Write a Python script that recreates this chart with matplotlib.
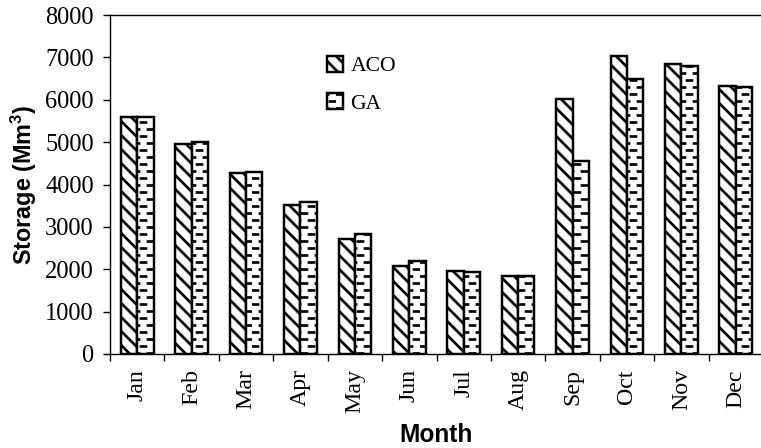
import numpy as np
import matplotlib
matplotlib.use("Agg")
import matplotlib.pyplot as plt
from matplotlib import hatch as mhatch
from matplotlib.path import Path

# ---------------- data ----------------
months = ["Jan", "Feb", "Mar", "Apr", "May", "Jun",
          "Jul", "Aug", "Sep", "Oct", "Nov", "Dec"]
aco = [5600, 4950, 4260, 3510, 2710, 2075, 1955, 1840, 6010, 7030, 6840, 6320]
ga = [5600, 5010, 4300, 3585, 2830, 2195, 1925, 1840, 4545, 6485, 6800, 6290]
yticks = [0, 1000, 2000, 3000, 4000, 5000, 6000, 7000, 8000]


# ------------- custom dashed hatch (replaces '.') -------------
class DashHatch(mhatch.HatchPatternBase):
    def __init__(self, hatch, density):
        n = hatch.count('.')
        self.segs = []
        if n:
            nrows, ncols = 12, 6
            half = 0.03
            for r in range(nrows):
                y = (r + 0.5) / nrows
                xoff = 0.25 if r % 2 == 0 else 0.75
                for c in range(ncols):
                    x = (c + xoff) / ncols
                    self.segs.append((x - half, y, x + half, y))
        self.num_vertices = len(self.segs) * 2

    def set_vertices_and_codes(self, vertices, codes):
        for i, (x0, y0, x1, y1) in enumerate(self.segs):
            vertices[2 * i] = (x0, y0)
            vertices[2 * i + 1] = (x1, y1)
            codes[2 * i] = Path.MOVETO
            codes[2 * i + 1] = Path.LINETO


mhatch._hatch_types = [h for h in mhatch._hatch_types
                       if h is not mhatch.SmallFilledCircles] + [DashHatch]

DPI = 84
plt.rcParams['hatch.linewidth'] = 2.3
plt.rcParams['mathtext.fontset'] = 'custom'
plt.rcParams['mathtext.rm'] = 'Liberation Sans:bold'
plt.rcParams['mathtext.bf'] = 'Liberation Sans:bold'

fig = plt.figure(figsize=(761 / DPI, 448 / DPI), dpi=DPI)
ax = fig.add_axes([110 / 761, (448 - 354) / 448, (763 - 110) / 761, (354 - 15) / 448])

x = np.arange(len(months))
w = 0.3
ax.bar(x - w / 2, aco, width=w, facecolor='white', edgecolor='black',
       linewidth=2.1, hatch='\\\\', label='ACO')
ax.bar(x + w / 2, ga, width=w, facecolor='white', edgecolor='black',
       linewidth=2.1, hatch='.', label='GA')

ax.set_xlim(-0.5, len(months) - 0.5)
ax.set_ylim(0, 8000)
ax.set_yticks(yticks)
ax.set_yticklabels([str(v) for v in yticks], fontfamily='Liberation Serif', fontsize=21)
ax.set_xticks(x)
ax.set_xticklabels(months, rotation=90, fontfamily='Liberation Serif', fontsize=20.5)
ax.set_xticks(np.arange(len(months) + 1) - 0.5, minor=True)
ax.tick_params(axis='x', which='major', length=0, pad=13)
ax.tick_params(axis='x', which='minor', length=6, width=1.2, direction='out')
ax.tick_params(axis='y', which='major', length=6, width=1.2, direction='out', pad=8)

for s in ['left', 'bottom', 'top']:
    ax.spines[s].set_linewidth(1.2)
ax.spines['right'].set_visible(False)

ax.set_xlabel('Month', fontfamily='Liberation Sans', fontweight='bold', fontsize=21, labelpad=8)
ax.set_ylabel('Storage (Mm$^{3}$)', fontfamily='Liberation Sans', fontweight='bold',
              fontsize=20, labelpad=5)

leg = ax.legend(loc='upper left', bbox_to_anchor=(316 / 761, 1 - 45 / 448),
                bbox_transform=fig.transFigure, frameon=False,
                prop={'family': 'Liberation Serif', 'size': 18.5},
                handlelength=0.75, handleheight=0.75, handletextpad=0.35,
                labelspacing=0.8, borderpad=0)

fig.savefig('out.png', dpi=DPI)
